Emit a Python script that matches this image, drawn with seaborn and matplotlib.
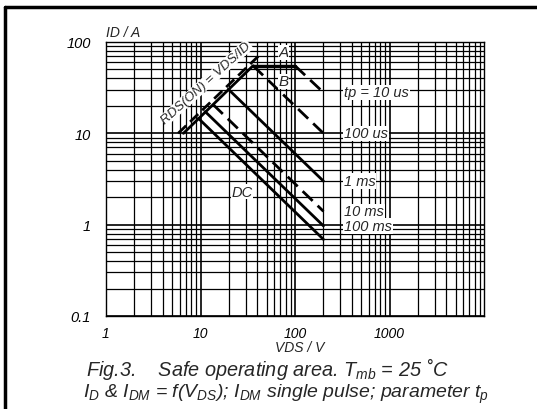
import matplotlib
matplotlib.use("Agg")
import matplotlib.pyplot as plt
from matplotlib.lines import Line2D
from matplotlib.ticker import FixedLocator, NullFormatter, LogLocator
import numpy as np
import pandas as pd
import seaborn as sns

# Pulse-duration limit lines (single pulse, Tmb = 25 C)
pulse_labels = ["tp = 10 us", "100 us", "1 ms", "10 ms", "100 ms", "DC"]
pulse_v_start = [100, 36, 19.7, 13.5, 11.2, 9.5]
pulse_i_start = [55, 55, 30.4, 20.8, 17.3, 14.6]
pulse_v_end = [200, 200, 200, 200, 200, 200]
pulse_i_end = [28, 10, 3.0, 1.4, 0.97, 0.69]
pulse_dashed = [True, True, False, True, False, False]

# On-resistance limits (type A dashed, type B solid)
rds_a_v = [5.8, 41]
rds_a_i = [10.0, 70]
rds_b_v = [6.6, 36]
rds_b_i = [10.0, 55]

# Drain current limit
id_lim_v = [36, 100]
id_lim_i = [55, 55]

x_ticks = [1, 10, 100, 1000]
x_ticklabels = ["1", "10", "100", "1000"]
y_ticks = [0.1, 1, 10, 100]
y_ticklabels = ["0.1", "1", "10", "100"]

sns.set_style("white")
plt.rcParams["font.family"] = ["Liberation Sans", "DejaVu Sans"]
plt.rcParams["font.style"] = "italic"
plt.rcParams["mathtext.fontset"] = "custom"
plt.rcParams["mathtext.it"] = "Liberation Sans:italic"
plt.rcParams["mathtext.rm"] = "Liberation Sans:italic"
plt.rcParams["mathtext.default"] = "it"

fig = plt.figure(figsize=(5.37, 4.10), dpi=100)
ax = fig.add_axes([106 / 537, 1 - 317 / 410, (484 - 106) / 537, (317 - 43) / 410])
ax.set_xscale("log")
ax.set_yscale("log")
ax.set_xlim(1, 10000)
ax.set_ylim(0.1, 100)

# dense log grid
ax.xaxis.set_minor_locator(LogLocator(base=10, subs=np.arange(2, 10)))
ax.yaxis.set_minor_locator(LogLocator(base=10, subs=np.arange(2, 10)))
ax.xaxis.set_minor_formatter(NullFormatter())
ax.yaxis.set_minor_formatter(NullFormatter())
ax.grid(which="major", color="black", linewidth=1.2)
ax.grid(which="minor", color="black", linewidth=0.9)
ax.set_axisbelow(True)
for s in ax.spines.values():
    s.set_color("black")
    s.set_linewidth(1.0)

ax.xaxis.set_major_locator(FixedLocator(x_ticks))
ax.set_xticklabels(x_ticklabels)
ax.yaxis.set_major_locator(FixedLocator(y_ticks))
ax.set_yticklabels(y_ticklabels)
ax.tick_params(which="both", length=0, colors="black")
ax.tick_params(axis="x", pad=7, labelsize=10)
ax.tick_params(axis="y", pad=11, labelsize=10.5)

# limit lines
lw = 2.0
sns.lineplot(x=rds_a_v, y=rds_a_i, ax=ax, color="black", linewidth=lw,
             linestyle=(0, (4, 2)))
sns.lineplot(x=rds_b_v, y=rds_b_i, ax=ax, color="black", linewidth=lw)
sns.lineplot(x=id_lim_v, y=id_lim_i, ax=ax, color="black", linewidth=lw + 0.5)

for lab, v0, i0, v1, i1, dsh in zip(pulse_labels, pulse_v_start, pulse_i_start,
                                     pulse_v_end, pulse_i_end, pulse_dashed):
    df = pd.DataFrame({"VDS": [v0, v1], "ID": [i0, i1]})
    sns.lineplot(data=df, x="VDS", y="ID", ax=ax, color="black", linewidth=lw,
                 linestyle=(0, (5, 2.5)) if dsh else "-")
    if lab != "DC":
        ax.text(v1 * 1.65, i1, lab, fontsize=10.5, ha="left", va="center",
                bbox=dict(facecolor="white", edgecolor="none", pad=0.5))

ax.text(27.5, 2.3, "DC", fontsize=10.5, ha="center", va="center",
        bbox=dict(facecolor="white", edgecolor="none", pad=0.5))
ax.text(76, 77, "A", fontsize=11, ha="center", va="center",
        bbox=dict(facecolor="white", edgecolor="none", pad=0.3))
ax.text(76, 37, "B", fontsize=11, ha="center", va="center",
        bbox=dict(facecolor="white", edgecolor="none", pad=0.3))
ax.text(11.5, 36, "RDS(ON) = VDS/ID", fontsize=9.5, rotation=42,
        ha="center", va="center", rotation_mode="anchor",
        bbox=dict(facecolor="white", edgecolor="none", pad=0.2))

ax.set_xlabel("")
ax.set_ylabel("")
fig.text(106 / 537, 1 - 33 / 410, "ID / A", fontsize=10, ha="left", va="center")
fig.text(300 / 537, 1 - 348 / 410, "VDS / V", fontsize=10, ha="center", va="center")

fig.text(86 / 537, 1 - 369 / 410,
         r"Fig.3.    Safe operating area. $T_{mb}$ = 25 ˚C",
         fontsize=14.3, ha="left", va="center")
fig.text(83 / 537, 1 - 394.5 / 410,
         r"$I_D$ & $I_{DM}$ = f($V_{DS}$); $I_{DM}$ single pulse; parameter $t_p$",
         fontsize=14.0, ha="left", va="center")

# figure frame
fig.add_artist(Line2D([5 / 537, 1.0], [1 - 8 / 410, 1 - 8 / 410],
                      transform=fig.transFigure, color="black", linewidth=2.5))
fig.add_artist(Line2D([5 / 537, 5 / 537], [1 - 8 / 410, 0.0],
                      transform=fig.transFigure, color="black", linewidth=2.5))

fig.savefig("out.png", dpi=100)
